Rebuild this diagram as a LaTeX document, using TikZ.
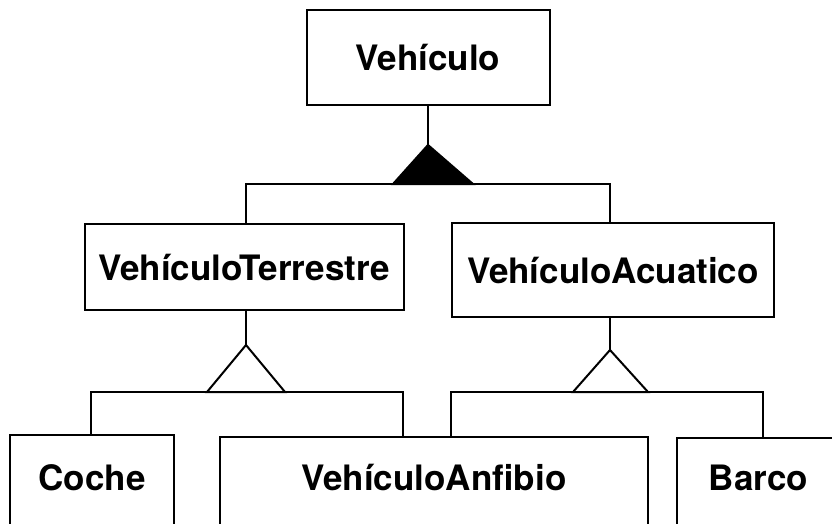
\documentclass[tikz,border=0pt]{standalone}
\usepackage{fontspec}
\setmainfont{TeX Gyre Heros}
\begin{document}
\begin{tikzpicture}[x=1pt,y=-1pt,
  box/.style={draw, line width=2pt, rectangle, inner sep=0pt, font=\bfseries\fontsize{35}{41}\selectfont},
  lbl/.style={inner sep=0pt, font=\bfseries\fontsize{35}{41}\selectfont},
  conn/.style={line width=2pt, line join=miter}]
\useasboundingbox (0,0) rectangle (832,524);
\clip (0,0) rectangle (832,524);
% boxes
\node[box, minimum width=243, minimum height=95] (veh) at (428,57.5) {Vehículo};
\node[box, minimum width=319, minimum height=86] (vt) at (244,267) {VehículoTerrestre};
\node[box, minimum width=322, minimum height=94] (va) at (613,270) {VehículoAcuatico};
\node[box, minimum width=164, minimum height=150, anchor=north] (coche) at (92,434) {};
\node[box, minimum width=428, minimum height=150, anchor=north] (anf) at (434,436) {};
\node[box, minimum width=163, minimum height=150, anchor=north] (barco) at (758.5,437) {};
\node[lbl, anchor=base] (tcoche) at (92,490) {Coche};
\node[lbl, anchor=base] (tanf) at (434,490) {VehículoAnfibio};
\node[lbl, anchor=base] (tbarco) at (758.5,490) {Barco};
% top generalization (filled)
\coordinate (a1) at (428,145);
\coordinate (l1) at (393,184);
\coordinate (r1) at (473,184);
\draw[conn] (veh.south) -- (a1);
\draw[conn, fill=black] (a1) -- (l1) -- (r1) -- cycle;
\draw[conn] ([xshift=2]vt.north) |- (l1);
\draw[conn] (r1) -| ([xshift=-3]va.north);
% terrestre generalization
\coordinate (a2) at (246,345);
\coordinate (l2) at (207,392);
\coordinate (r2) at (285,392);
\draw[conn] ([xshift=2]vt.south) -- (a2);
\draw[conn] (a2) -- (l2) -- (r2) -- cycle;
\draw[conn] (l2) -| ([xshift=-1]coche.north);
\draw[conn] (r2) -| ([xshift=184]anf.north west);
% acuatico generalization
\coordinate (a3) at (610,350);
\coordinate (l3) at (573,392);
\coordinate (r3) at (648,392);
\draw[conn] ([xshift=-3]va.south) -- (a3);
\draw[conn] (a3) -- (l3) -- (r3) -- cycle;
\draw[conn] (l3) -| ([xshift=232]anf.north west);
\draw[conn] (r3) -| ([xshift=87]barco.north west);
\end{tikzpicture}
\end{document}
